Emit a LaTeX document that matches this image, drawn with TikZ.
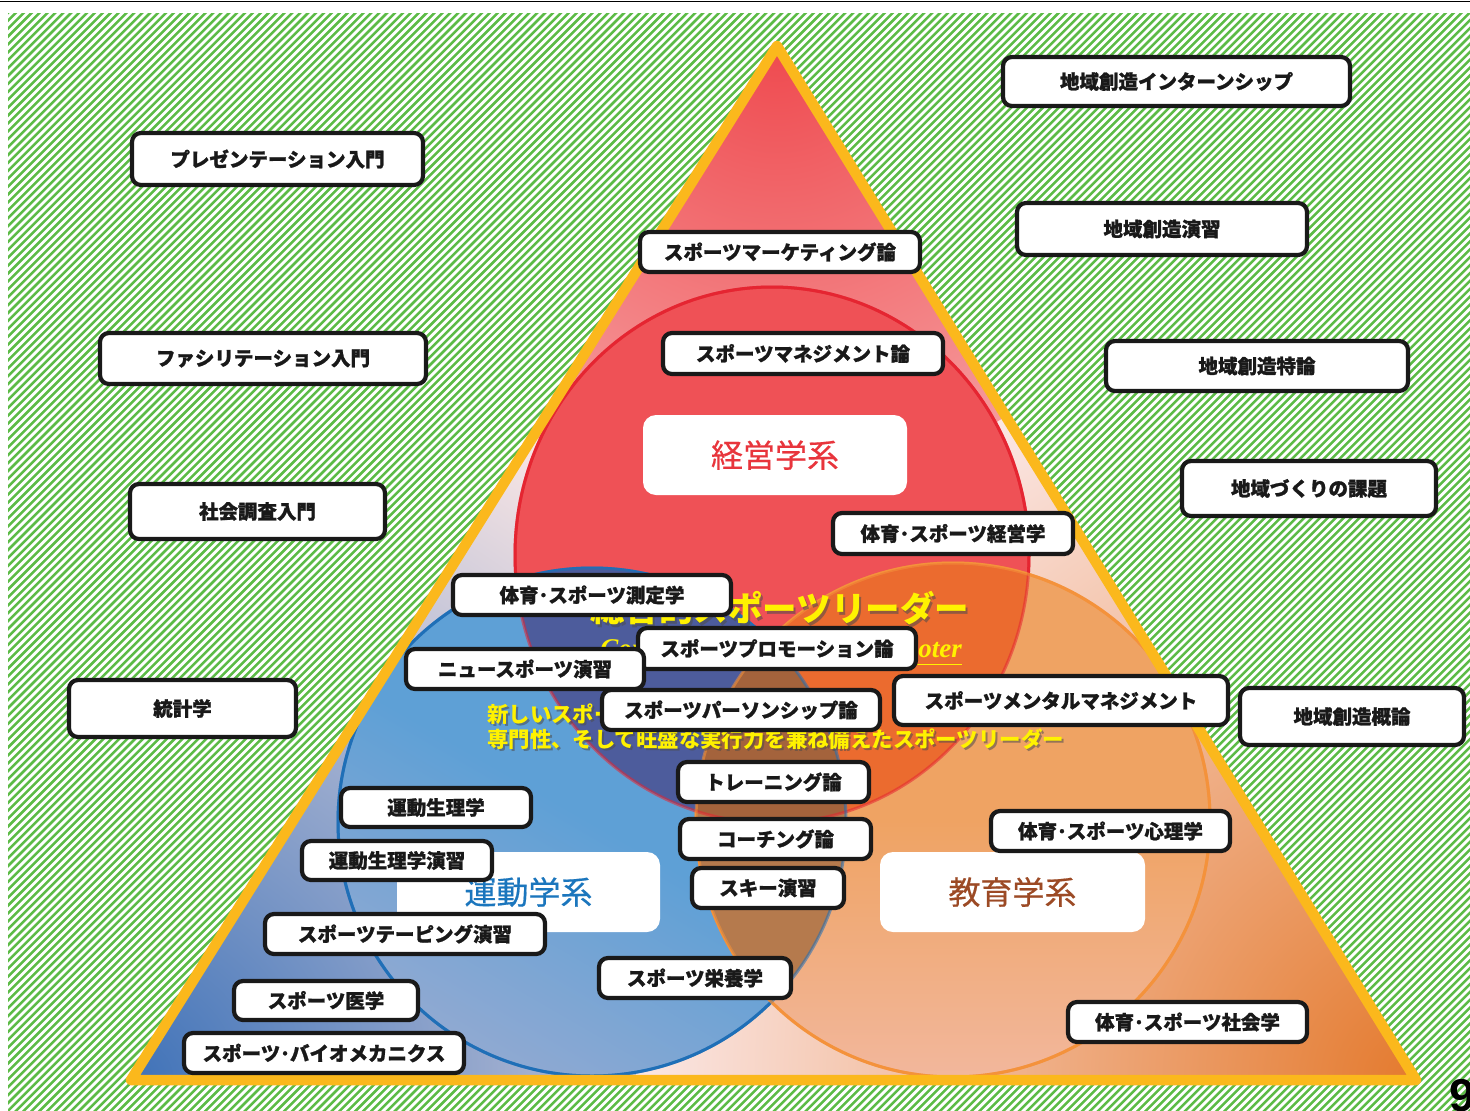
\documentclass[tikz,border=0pt]{standalone}
\usepackage{fontspec}
\setmainfont{Liberation Sans}
\newfontfamily\jp{Noto Sans CJK JP}
\newfontfamily\jpb{Noto Sans CJK JP}[BoldFeatures={FakeBold=1.2}]
\newfontfamily\jpm{Noto Sans CJK JP}[FakeBold=0.5]
\newfontfamily\serifit{Liberation Serif}
\definecolor{hatch}{HTML}{5CBB46}
\definecolor{triy}{HTML}{FBB81C}
\definecolor{base}{HTML}{FBE7E5}
\definecolor{apexred}{HTML}{EF4A4F}
\definecolor{cornerblue}{HTML}{3F72B8}
\definecolor{cornerorange}{HTML}{E47A2E}
\definecolor{cred}{HTML}{EF5156}
\definecolor{credline}{HTML}{E52531}
\definecolor{cblue}{HTML}{5EA0D6}
\definecolor{cbluelow}{HTML}{8FA9D2}
\definecolor{cblueline}{HTML}{1F6FB7}
\definecolor{corange}{HTML}{EFA363}
\definecolor{corangelow}{HTML}{F2B79C}
\definecolor{corangeline}{HTML}{F4923B}
\definecolor{navy}{HTML}{4D5C9C}
\definecolor{redorange}{HTML}{EB6B2F}
\definecolor{brownA}{HTML}{B57A4D}
\definecolor{brownB}{HTML}{A4633C}
\definecolor{ylw}{HTML}{FFF200}
\definecolor{lblred}{HTML}{E8353C}
\definecolor{lblblue}{HTML}{1B76BD}
\definecolor{lblbrown}{HTML}{9C4A25}
\newcommand\cb[6]{\node[course, minimum width={#4-#2-4}, minimum height={#5-#3-4}] (#1) at ({(#2+#4)/2},{(#3+#5)/2}) {#6};}
\begin{document}
\begin{tikzpicture}[x=1pt,y=-1pt,
  course/.style={draw=black!90, line width=4.2pt, fill=white, rounded corners=9pt, inner sep=0pt,
    font=\jpb\bfseries\fontsize{19.5}{22}\selectfont, text=black!90},
  lblbox/.style={fill=white, rounded corners=13pt, inner sep=0pt, font=\jpm\fontsize{32}{36}\selectfont},
  ytxt/.style={text=ylw, inner sep=0pt, anchor=west},
  yshadow/.style={text=black!70, opacity=0.55, inner sep=0pt, anchor=west}]
\useasboundingbox (0,0) rectangle (1470,1111);
\fill[white] (0,0) rectangle (1470,1111);
% hatched background
\begin{scope}
  \clip (8,13) rectangle (1470,1111);
  \foreach \i in {0,...,330} \draw[hatch, line width=2.5pt] ({\i*7.9-1110},1115) -- ++(1110,-1110);
\end{scope}
\draw[black, line width=1.5pt] (0,1.5) -- (1470,1.5);
% triangle
\coordinate (A) at (777,46);
\coordinate (B) at (131,1080);
\coordinate (C) at (1416,1080);
\fill[base] (A) -- (B) -- (C) -- cycle;
\begin{scope}
  \clip (A) -- (B) -- (C) -- cycle;
  \shade[inner color=apexred, outer color=base] (A) circle (860);
  \shade[inner color=cornerblue, outer color=base] (B) circle (760);
  \shade[inner color=cornerorange, outer color=base] (C) circle (780);
\end{scope}
% circles
\def\redc{(772,555) ellipse [x radius=257, y radius=268]}
\def\bluec{(592,822) circle (254)}
\def\orc{(953,820) circle (257)}
\fill[cred] \redc;
\draw[credline, line width=3pt] \redc;
\shade[top color=cblue, bottom color=cbluelow, middle color=cblue, shading angle=-30] \bluec;
\draw[cblueline, line width=3pt] \bluec;
\shade[top color=corange, bottom color=corangelow, middle color=corange] \orc;
\draw[corangeline, line width=3pt] \orc;
\begin{scope}\clip \redc; \fill[navy] \bluec; \fill[redorange] \orc; \end{scope}
\begin{scope}\clip \bluec; \fill[brownA] \orc; \end{scope}
\begin{scope}\clip \redc; \clip \bluec; \fill[brownB] \orc; \end{scope}
\draw[credline, line width=3pt, opacity=0.55] \redc;
\draw[cblueline, line width=3pt, opacity=0.55] \bluec;
\draw[corangeline, line width=3pt, opacity=0.55] \orc;
\draw[triy, line width=10.5pt, line join=round] (A) -- (B) -- (C) -- cycle;
% field label boxes
\node[lblbox, minimum width=264, minimum height=80, text=lblred] (keiei) at (775,455) {経営学系};
\node[lblbox, minimum width=263, minimum height=80, text=lblblue] (undou) at (528.5,892) {運動学系};
\node[lblbox, minimum width=265, minimum height=80, text=lblbrown] (kyouiku) at (1012.5,892) {教育学系};
% yellow texts
\begin{scope}[font=\jp\bfseries\fontsize{34.5}{36}\selectfont]
  \node[yshadow] at (592,611) {総合的スポーツリーダー};
  \node[ytxt] (title) at (590,608) {総合的スポーツリーダー};
\end{scope}
\node[text=ylw, inner sep=0pt, anchor=east, font=\serifit\bfseries\itshape\fontsize{27}{30}\selectfont] (eng) at (962,652) {\underline{Comprehensive Sports Promoter}};
\begin{scope}[font=\jp\bfseries\fontsize{21.4}{24}\selectfont]
  \node[yshadow] at (489,716) {新しいスポーツ文化への理解と};
  \node[ytxt] (lineA) at (487,714) {新しいスポーツ文化への理解と};
  \node[yshadow] at (489,741) {専門性、そして旺盛な実行力を兼ね備えたスポーツリーダー};
  \node[ytxt] (lineB) at (487,739) {専門性、そして旺盛な実行力を兼ね備えたスポーツリーダー};
\end{scope}
% course boxes
\cb{b1}{1001}{55}{1352}{108}{地域創造インターンシップ}
\cb{b2}{130}{131}{425}{187}{プレゼンテーション入門}
\cb{b3}{1015}{201}{1309}{257}{地域創造演習}
\cb{b4}{638}{230}{922}{274}{スポーツマーケティング論}
\cb{b5}{98}{331}{428}{386}{ファシリテーション入門}
\cb{b6}{661}{331}{945}{376}{スポーツマネジメント論}
\cb{b7}{1104}{339}{1410}{393}{地域創造特論}
\cb{b8}{1180}{459}{1438}{518}{地域づくりの課題}
\cb{b9}{128}{482}{387}{541}{社会調査入門}
\cb{b10}{831}{511}{1075}{556}{体育･スポーツ経営学}
\cb{b11}{451}{573}{733}{617}{体育･スポーツ測定学}
\cb{b12}{636}{626}{918}{671}{スポーツプロモーション論}
\cb{b13}{404}{647}{646}{691}{ニュースポーツ演習}
\cb{b14}{600}{688}{882}{732}{スポーツパーソンシップ論}
\cb{b15}{892}{674}{1230}{727}{スポーツメンタルマネジメント}
\cb{b16}{1238}{686}{1466}{747}{地域創造概論}
\cb{b17}{67}{678}{298}{739}{統計学}
\cb{b18}{676}{760}{871}{804}{トレーニング論}
\cb{b19}{339}{786}{533}{829}{運動生理学}
\cb{b20}{678}{817}{873}{861}{コーチング論}
\cb{b21}{300}{839}{494}{882}{運動生理学演習}
\cb{b22}{690}{866}{846}{910}{スキー演習}
\cb{b23}{989}{809}{1232}{853}{体育･スポーツ心理学}
\cb{b24}{263}{912}{547}{956}{スポーツテーピング演習}
\cb{b25}{597}{956}{793}{1000}{スポーツ栄養学}
\cb{b26}{232}{979}{420}{1022}{スポーツ医学}
\cb{b27}{1066}{1000}{1309}{1044}{体育･スポーツ社会学}
\cb{b28}{182}{1031}{466}{1075}{スポーツ･バイオメカニクス}
% page number
\node[anchor=base west, inner sep=0pt, font=\bfseries\fontsize{46}{50}\selectfont] (pg) at (1449,1111) {9};
\end{tikzpicture}
\end{document}
